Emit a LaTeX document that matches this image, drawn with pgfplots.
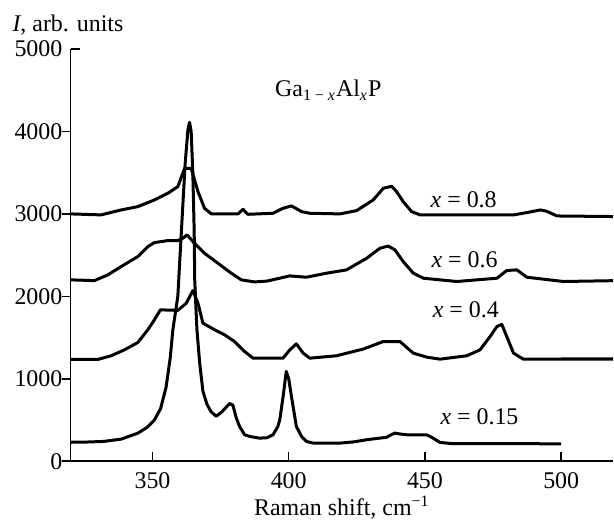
\documentclass[border=0pt]{standalone}
\usepackage{fontspec}
\setmainfont{Liberation Serif}
\usepackage{pgfplots}
\pgfplotsset{compat=1.18}
\pgfplotsset{spec/.style={black, line width=1.5bp, no marks, line join=round}}
\begin{document}
\fontsize{12}{14}\selectfont
\begin{tikzpicture}
\begin{axis}[
  scale only axis, width=271bp, height=206bp,
  xmin=320, xmax=519, ymin=0, ymax=5000,
  axis x line=bottom, axis y line=left,
  axis line style={-, line width=0.75bp},
  xtick={350,400,450,500}, ytick={0,1000,2000,3000,4000},
  extra y ticks={5000}, extra y tick style={tick align=inside, yticklabel style={xshift=-4.5bp}},
  tick align=outside, major tick length=4.5bp,
  tick style={line width=0.75bp, black},
  xtick style={yshift=4.5bp},
  /pgf/number format/assume math mode=true,
  /pgf/number format/1000 sep={},
  tick label style={font=\fontsize{12}{14}\selectfont},
  xticklabel style={yshift=3bp},
  yticklabel style={xshift=4.5bp},
  xlabel={Raman shift, cm\textsuperscript{−1}},
  xlabel style={font=\fontsize{12}{14}\selectfont, at={(axis description cs:0.5,0)}, anchor=base, yshift=-27.2bp},
  clip=false,
]
% x = 0.15
\addplot[spec] coordinates {(320,230) (326,233) (332,240) (338.5,268) (344.6,340) (348,410) (350.7,500) (353,640) (355,900) (356.5,1250) (357.5,1600) (359.3,2000) (360.5,2725) (362,3614) (363,4018) (363.6,4110) (364.2,4000) (364.8,3500) (365.3,2800) (365.5,2200) (366.3,1600) (367.3,1200) (368.5,850) (370,690) (371.5,600) (373.4,545) (375.5,600) (378.3,700) (379.5,680) (380.8,520) (382,420) (383.8,321) (385.7,300) (389.3,280) (392,285) (394.2,320) (396,420) (396.7,500) (398,800) (399.1,1090) (400,1000) (401,786) (402.8,422) (404.7,301) (406.5,240) (408.9,220) (418.8,220) (424,235) (428.6,261) (435.9,290) (437.5,320) (439,341) (441,330) (443.3,321) (450.6,320) (452.5,290) (455.5,228) (460.4,212) (480,215) (500,210)};
% x = 0.4
\addplot[spec] coordinates {(320,1235) (330,1235) (334.8,1279) (339.7,1351) (344.6,1440) (348.3,1594) (350.7,1715) (352.9,1836) (359.3,1830) (362.4,1917) (364.8,2070) (366.7,1917) (368.5,1675) (372.8,1594) (376.5,1533) (380.1,1452) (383.8,1331) (386.9,1250) (397.9,1250) (400.4,1351) (402.8,1424) (405.3,1311) (407.7,1250) (417.5,1279) (427.3,1360) (434.7,1452) (440.8,1452) (445.7,1311) (450.6,1263) (455.5,1238) (465.3,1279) (470.2,1351) (473.9,1513) (476.4,1634) (478.2,1660) (480,1513) (482.5,1311) (486.1,1238) (500,1240) (519,1240)};
% x = 0.6
\addplot[spec] coordinates {(320,2200) (328.7,2191) (333.6,2260) (338.5,2361) (344.6,2482) (348.3,2604) (350.7,2652) (355.6,2676) (359.3,2676) (361.1,2705) (362.7,2745) (365.4,2644) (369.1,2523) (374,2402) (378.9,2281) (382.6,2200) (387.5,2175) (392,2185) (400.4,2248) (406.5,2232) (413.9,2281) (421.2,2321) (428.6,2462) (433.5,2584) (436.5,2610) (439,2563) (442,2422) (445.7,2281) (449.4,2220) (461.7,2180) (476.4,2220) (480,2313) (483.7,2321) (487.4,2232) (500.8,2180) (519,2190)};
% x = 0.8
\addplot[spec] coordinates {(320,3000) (331.1,2988) (338.5,3048) (344.6,3088) (350.7,3169) (355.6,3250) (359.3,3331) (361.8,3553) (364.2,3553) (366.7,3270) (369.1,3068) (371.6,3000) (381.4,3000) (383.2,3056) (385,2995) (394.2,3008) (397.9,3068) (401,3097) (404.7,3028) (407.7,3008) (418.8,3000) (424.9,3040) (431,3169) (434.7,3311) (437.8,3335) (439.6,3270) (442,3149) (445.1,3028) (448.2,2988) (482.5,2988) (487.4,3016) (492.3,3048) (494.7,3032) (498.4,2975) (519,2968)};
\node at (axis cs:464.2,3170) {\textit{x} = 0.8};
\node at (axis cs:464.5,2442) {\textit{x} = 0.6};
\node at (axis cs:465,1836) {\textit{x} = 0.4};
\node at (axis cs:470,540) {\textit{x} = 0.15};
\node at (axis cs:414.5,4503) {Ga\textsubscript{1 − \textit{x}}Al\textsubscript{\textit{x}}P};
\node[anchor=base west, inner sep=0pt] at (rel axis cs:0,1) [xshift=-29.3bp, yshift=8.7bp] {\textit{I}, arb. units};
\end{axis}
\pgfresetboundingbox
\path ([shift={(-35.35bp,-29.75bp)}]current axis.south west) rectangle ([shift={(0.5bp,24.5bp)}]current axis.north east);
\end{tikzpicture}
\end{document}
